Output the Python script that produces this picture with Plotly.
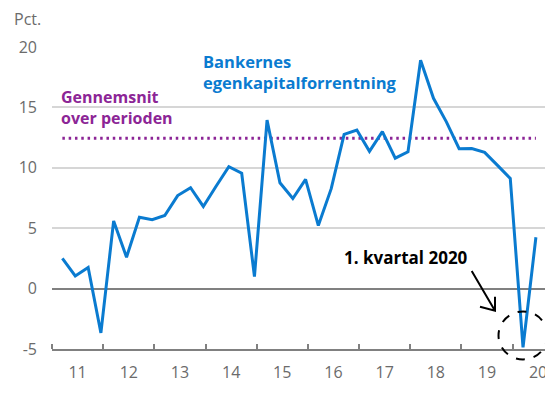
import pandas as pd
import plotly.graph_objects as go

# Quarterly return on equity (pct.), 2011K1 - 2020K2
quarters = [f"{y}K{q}" for y in range(2011, 2021) for q in range(1, 5)][:38]
roe = [2.5, 1.05, 1.74, -3.67,
       5.6, 2.6, 5.9, 5.7,
       6.05, 7.7, 8.35, 6.8,
       8.45, 10.1, 9.55, 1.0,
       13.95, 8.76, 7.46, 9.04,
       5.22, 8.27, 12.77, 13.13,
       11.36, 12.99, 10.8, 11.33,
       18.9, 15.75, 13.8, 11.58,
       11.6, 11.28, 10.2, 9.12,
       -4.87, 4.25]
average = 12.45
yticks = [-5, 0, 5, 10, 15, 20]
ytext = ["-5", "0", "5", "10", "15", "20"]

series_name = "Bankernes<br>egenkapitalforrentning"
avg_name = "Gennemsnit<br>over perioden"
callout = "1. kvartal 2020"

# position each quarter in the middle of its last month
dates = [pd.Timestamp(int(s[:4]), int(s[-1]) * 3, 16) for s in quarters]

X0, X1 = pd.Timestamp("2011-01-01"), pd.Timestamp("2020-10-16")
Y0, Y1 = -5, 20

BLUE = "#0a7bd0"
PURPLE = "#8c2596"
GREY = "#6b6b6b"
FONT = "Open Sans"

fig = go.Figure()
fig.add_trace(go.Scatter(x=[dates[0], dates[-1]], y=[average, average], mode="lines",
                         line=dict(color=PURPLE, width=3, dash="2.5px,3.8px"),
                         hoverinfo="skip"))
fig.add_trace(go.Scatter(x=dates, y=roe, mode="lines",
                         line=dict(color=BLUE, width=3)))

# the page body adds an 8px margin, so the figure is sized/margined to compensate
fig.update_layout(
    width=553, height=403,
    margin=dict(l=44, r=8, t=39, b=62),
    paper_bgcolor="white", plot_bgcolor="white",
    showlegend=False,
    font=dict(family=FONT, color=GREY, size=16),
    xaxis=dict(
        type="date", automargin=False,
        range=[X0, X1],
        tick0="2011-01-01", dtick="M12",
        ticklabelmode="period", tickformat="%y",
        ticks="inside", ticklen=5, tickwidth=1.5, tickcolor="#808080",
        showline=True, linecolor="#808080", linewidth=1.5,
        showgrid=False, zeroline=False,
        tickfont=dict(family=FONT, size=16, color=GREY),
        ticklabelstandoff=8,
    ),
    yaxis=dict(
        automargin=False,
        range=[Y0, Y1], tickvals=yticks, ticktext=ytext,
        showgrid=True, gridcolor="#d6d6d6", gridwidth=1.5,
        zeroline=True, zerolinecolor="#808080", zerolinewidth=1.5,
        tickfont=dict(family=FONT, size=16, color=GREY),
        ticklabelstandoff=14,
    ),
)

fig.add_annotation(text="Pct.", xref="paper", yref="paper", x=-0.08, y=1.093,
                   xanchor="left", yanchor="middle", showarrow=False,
                   font=dict(family=FONT, size=16, color=GREY))
fig.add_annotation(text=f"<b>{series_name}</b>", xref="paper", yref="paper",
                   x=0.298, y=0.917, xanchor="left", yanchor="middle", align="left",
                   showarrow=False, font=dict(family=FONT, size=16.5, color=BLUE))
fig.add_annotation(text=f"<b>{avg_name}</b>", xref="paper", yref="paper",
                   x=0.014, y=0.801, xanchor="left", yanchor="middle", align="left",
                   showarrow=False, font=dict(family=FONT, size=16, color=PURPLE))
fig.add_annotation(text=f"<b>{callout}</b>", xref="paper", yref="paper",
                   x=0.7066, y=0.3046, xanchor="center", yanchor="middle",
                   showarrow=False, font=dict(family=FONT, size=17, color="black"))
# arrow (thin open V head) pointing to the circled quarter
fig.add_shape(type="path", xref="paper", yref="paper",
              xsizemode="pixel", ysizemode="pixel",
              xanchor=(495 - 52) / 501, yanchor=(349 - 310.7) / 302,
              path="M-23.3,39.7 L0,0 M-15,4 L0,0 L0,14",
              line=dict(color="black", width=2))
# dashed circle around 2020K1 (paper-referenced so it is not clipped)
cx = (dates[-2] - X0) / (X1 - X0)
cy = (roe[-2] - Y0) / (Y1 - Y0)
fig.add_shape(type="circle", xref="paper", yref="paper",
              xsizemode="pixel", ysizemode="pixel",
              xanchor=cx, yanchor=cy,
              x0=-24.5, x1=24.5, y0=-12, y1=36,
              line=dict(color="black", width=2, dash="dash"))

fig.write_html("out.html")
